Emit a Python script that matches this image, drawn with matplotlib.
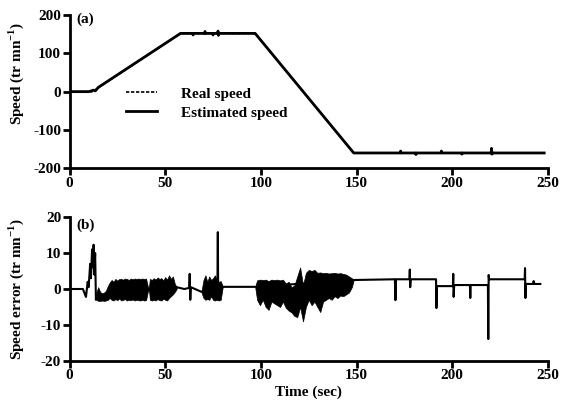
import numpy as np
import matplotlib
matplotlib.use('Agg')
import matplotlib.pyplot as plt

plt.rcParams['font.family'] = 'Liberation Serif'
plt.rcParams['font.weight'] = 'bold'
plt.rcParams['mathtext.fontset'] = 'custom'
plt.rcParams['mathtext.rm'] = 'Liberation Serif:bold'
plt.rcParams['mathtext.bf'] = 'Liberation Serif:bold'
plt.rcParams['axes.unicode_minus'] = False

# (a) speed, tr/mn
real_t = [0, 12, 58, 97, 148.5, 248]
real_v = [0, 0, 152, 152, -160, -160]

est_t = [0, 10, 11.5, 12.5, 13.5, 15, 58, 64.4, 64.6, 64.8, 70.6, 70.8, 71.0,
         74.8, 75.0, 75.2, 77.4, 77.6, 77.8, 78.0, 97, 148.5, 172.8, 173.0, 173.2,
         180.8, 181.0, 181.2, 194.1, 194.3, 194.5, 204.8, 205.0, 205.2,
         220.3, 220.5, 220.7, 220.9, 248]
est_v = [0, 0, 2, 4, 2, 11, 152, 152, 148, 152, 152, 157, 152,
         152, 148, 152, 152, 158, 147, 152, 152, -160, -160, -155, -160,
         -160, -164, -160, -160, -155, -160, -160, -163, -160,
         -160, -148, -163, -160, -160]

# (b) speed error, tr/mn : sparse line
err_t = [0, 7, 8.6, 9.5, 10.0, 10.8, 11.2, 11.8, 12.2, 12.6, 13.0, 13.4, 13.8, 14,
         56, 60, 62.5, 62.8, 63.1, 63.4, 69,
         77.3, 77.5, 77.7, 80, 97,
         148.5, 170.0, 170.3, 170.6, 177.6, 177.8, 178.0, 178.3,
         191.5, 191.7, 192.0, 200.3, 200.5, 200.7, 201.0,
         209.2, 209.4, 209.6, 218.6, 218.8, 219.0, 219.2,
         237.8, 238.0, 238.2, 238.4, 242.3, 242.5, 242.7, 246]
err_v = [0, 0, -2.2, 2, 0.5, 7, 3, 11, 6, 12.3, 4, 10, -3, -2,
         0.5, 0, 0.3, 4.2, -3, 0.5, -0.8,
         2.5, 15.8, -2.5, 0.6, 0.6,
         2.5, 2.7, -3.1, 2.7, 2.7, 5.4, 0.5, 2.7,
         2.7, -5.3, 0.8, 0.8, 4.2, -2.2, 1.1,
         1.1, -2.5, 1.1, 1.1, -13.9, 3.9, 2.7,
         2.7, 5.8, -2.5, 1.4, 1.4, 2.2, 1.4, 1.4]

# (b) dense oscillation bands: upper / lower envelope
band1_t = [14, 15, 16, 17, 18, 19, 20, 21, 22, 23, 24, 25, 26, 27, 28, 29, 30, 31, 32,
           33, 34, 35, 36, 37, 38, 39, 40, 41, 41.5, 42, 43, 44, 45, 46, 47, 48, 49,
           50, 51, 52, 53, 54, 55, 56]
band1_hi = [-1.0, 0.5, -0.8, -1.2, -1.0, -0.5, 0.8, 1.8, 2.5, 2.0, 2.8, 2.3, 2.8, 2.8,
            2.6, 2.9, 2.8, 2.5, 2.9, 2.7, 2.9, 2.8, 2.9, 2.8, 2.9, 2.8, 2.9, 0.5, 0.5,
            2.8, 2.5, 3.0, 2.6, 3.2, 2.8, 3.0, 2.4, 3.3, 2.6, 3.8, 2.8, 3.5, 1.5, 0.5]
band1_lo = [-3.0, -3.3, -3.3, -3.2, -3.3, -3.2, -3.0, -2.5, -3.0, -3.2, -2.8, -3.1,
            -2.6, -3.2, -3.0, -2.8, -3.2, -3.0, -3.1, -2.9, -3.2, -3.0, -3.1, -3.2,
            -3.0, -3.2, -3.1, -0.5, 0.0, -3.0, -3.2, -3.0, -3.2, -2.8, -3.1, -3.2,
            -2.7, -3.0, -3.2, -2.5, -2.0, -1.5, -0.8, 0.0]

band2_t = [69, 70, 71, 72, 73, 74, 75, 76, 77, 78, 79, 80]
band2_hi = [-0.5, 2.5, 3.8, 2.0, 3.5, 2.5, 3.0, 3.8, 2.5, 2.0, 2.2, 0.8]
band2_lo = [-1.0, -2.5, -3.0, -2.8, -3.0, -2.0, -3.0, -3.2, -3.0, -3.2, -3.0, 0.4]

band3_t = [97, 98, 99.5, 101, 102.5, 104, 105.5, 107, 108.5, 110, 111.5, 113, 114.5,
           116, 117.5, 119, 120.5, 122, 123.5, 125, 126.5, 128, 129.5, 131, 132.5,
           134, 135.5, 137, 138.5, 140, 141.5, 143, 144.5, 146, 147.5, 148.5]
band3_hi = [0.6, 2.4, 2.6, 2.5, 2.6, 2.2, 2.6, 2.5, 2.6, 2.4, 2.6, 1.5, 2.0, 0.5, 1.0,
            3.5, 6.0, 1.0, 4.5, 5.3, 5.0, 5.3, 4.5, 4.6, 4.4, 4.5, 4.3, 4.4, 4.5, 4.3,
            4.4, 4.2, 4.0, 3.5, 3.0, 2.5]
band3_lo = [0.6, -3.0, -4.5, -3.0, -5.0, -5.8, -3.5, -4.0, -4.5, -5.0, -3.5, -5.2,
            -6.0, -6.5, -7.5, -7.8, -5.0, -9.0, -5.0, -3.0, -4.5, -3.5, -5.0, -6.4,
            -3.5, -3.0, -2.5, -3.0, -2.0, -2.5, -1.8, -2.0, -1.5, -1.0, 0.5, 2.5]

xticks = [0, 50, 100, 150, 200, 250]

fig = plt.figure(figsize=(5.64, 4.09), dpi=100)
ax1 = fig.add_axes([69.5 / 564, 1 - 168.3 / 409, 478.5 / 564, 153.3 / 409])
ax2 = fig.add_axes([69.5 / 564, 1 - 361 / 409, 478.5 / 564, 144 / 409])

ax1.plot(est_t, est_v, color='black', lw=2.0, label='Estimated speed', zorder=2)
ax1.plot(real_t, real_v, color='black', lw=1.2, ls=(0, (2, 1)), label='Real speed', zorder=3)

ax2.plot(err_t, err_v, color='black', lw=1.5)
for bt, bh, bl in [(band1_t, band1_hi, band1_lo), (band2_t, band2_hi, band2_lo),
                   (band3_t, band3_hi, band3_lo)]:
    ax2.fill_between(bt, bl, bh, facecolor='black', edgecolor='black', lw=0.5)

for ax in (ax1, ax2):
    ax.spines['top'].set_visible(False)
    ax.spines['right'].set_visible(False)
    ax.spines['left'].set_linewidth(2)
    ax.spines['bottom'].set_linewidth(2)
    ax.tick_params(width=2, length=5, labelsize=11, pad=1)
    ax.set_xlim(0, 250)
    ax.set_xticks(xticks)
    for lab in ax.get_xticklabels() + ax.get_yticklabels():
        lab.set_fontweight('bold')

ax1.set_ylim(-200, 200)
ax1.set_yticks([-200, -100, 0, 100, 200])
ax2.set_ylim(-20, 20)
ax2.set_yticks([-20, -10, 0, 10, 20])

ax1.set_ylabel(r'Speed (tr mn$^{-1}$)', fontsize=11, fontweight='bold')
ax2.set_ylabel(r'Speed error (tr mn$^{-1}$)', fontsize=11, fontweight='bold')
ax1.yaxis.set_label_coords(-0.09, 0.62)
ax2.yaxis.set_label_coords(-0.09, 0.5)
ax2.set_xlabel('Time (sec)', fontsize=11, fontweight='bold', labelpad=2)

ax1.text(0.015, 0.97, '(a)', transform=ax1.transAxes, fontsize=11, fontweight='bold',
         va='center', ha='left')
ax2.text(0.015, 0.945, '(b)', transform=ax2.transAxes, fontsize=11, fontweight='bold',
         va='center', ha='left')

handles, labels = ax1.get_legend_handles_labels()
ax1.legend(handles[::-1], labels[::-1], loc='upper left', bbox_to_anchor=(0.09, 0.62),
           frameon=False, fontsize=11, handlelength=2.0, handletextpad=1.6,
           labelspacing=0.35)

fig.savefig('out.png', dpi=100)
